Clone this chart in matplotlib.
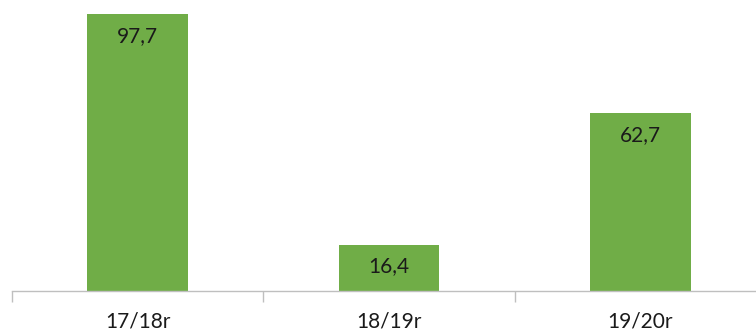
import matplotlib.pyplot as plt

seasons = ["17/18r", "18/19r", "19/20r"]
values = [97.7, 16.4, 62.7]

bar_color = "#70AD47"
axis_color = "#BFBFBF"

fig = plt.figure(figsize=(7.56, 3.33), dpi=100)
ax = fig.add_axes([12 / 756, 42 / 333, 754 / 756, 283.5 / 333])

x = range(len(seasons))
bars = ax.bar(x, values, width=0.4, color=bar_color, zorder=2)

ax.set_xlim(-0.5, len(seasons) - 0.5)
ax.set_ylim(0, 100)

# value labels sit inside the bar, just under its top edge
for rect, v in zip(bars, values):
    ax.annotate(
        f"{v:.1f}".replace(".", ","),
        xy=(rect.get_x() + rect.get_width() / 2, v),
        xytext=(0, -28),
        textcoords="offset pixels",
        ha="center",
        va="baseline",
        fontsize=15,
        family="Lato",
        color="#1a1a1a",
    )

for side in ["top", "right", "left"]:
    ax.spines[side].set_visible(False)
ax.spines["bottom"].set_color(axis_color)
ax.spines["bottom"].set_linewidth(1.0)

ax.set_yticks([])
ax.set_xticks([-0.5, 0.5, 1.5, 2.5], minor=False)
ax.set_xticklabels([])
ax.tick_params(axis="x", which="major", length=8, color=axis_color, width=1.0)
ax.set_xticks(list(x), minor=True)
ax.set_xticklabels(seasons, minor=True, fontsize=15, family="Lato", color="#1a1a1a")
ax.tick_params(axis="x", which="minor", length=0, pad=15)

fig.savefig("out.png", dpi=100)
